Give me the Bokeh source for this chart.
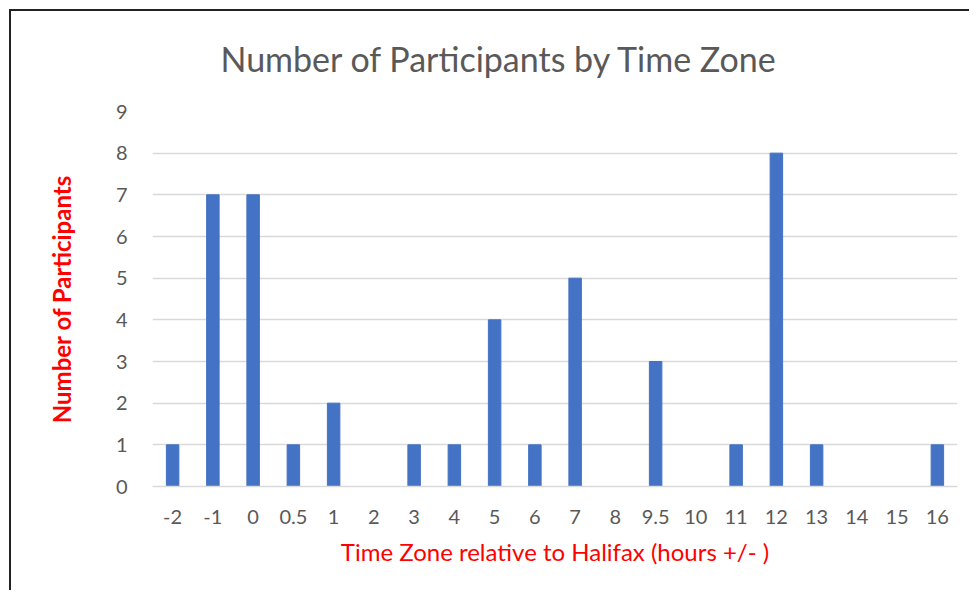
from bokeh.plotting import figure
from bokeh.models import FactorRange, Range1d, FixedTicker
from bokeh.embed import file_html
from bokeh.resources import INLINE

categories = ["-2", "-1", "0", "0.5", "1", "2", "3", "4", "5", "6", "7", "8",
              "9.5", "10", "11", "12", "13", "14", "15", "16"]
participants = [1, 7, 7, 1, 2, 0, 1, 1, 4, 1, 5, 0, 3, 0, 1, 8, 1, 0, 0, 1]
y_ticks = [0, 1, 2, 3, 4, 5, 6, 7, 8, 9]

FONT = "Lato"
GREY = "#595959"
RED = "#FF0000"

border_bg = ("linear-gradient(#222222, #222222) 9px 9px / 2px 100% no-repeat, "
             "linear-gradient(#222222, #222222) 9px 9px / 100% 2px no-repeat, #ffffff")

p = figure(
    width=969, height=590,
    x_range=FactorRange(*categories, range_padding=0),
    y_range=Range1d(0, 9),
    output_backend="svg", toolbar_location=None,
    min_border_left=152, min_border_right=12,
    min_border_top=111, min_border_bottom=104,
    styles={"background": border_bg},
)
p.x_range.factor_padding = 0
p.border_fill_color = None
p.background_fill_color = "#ffffff"

p.vbar(x=categories, top=participants, width=0.31, color="#4472C4")

p.title.text = "Number of Participants by Time Zone"
p.title.align = "left"
p.title.offset = 68
p.title.text_font = FONT
p.title.text_font_style = "normal"
p.title.text_font_size = "34px"
p.title.text_color = GREY
p.title.standoff = 65

p.outline_line_color = None
p.xgrid.grid_line_color = None
p.ygrid.grid_line_color = "#D9D9D9"
p.ygrid.grid_line_width = 1.5

p.yaxis.ticker = FixedTicker(ticks=y_ticks)
p.yaxis.axis_line_color = None
p.yaxis.major_tick_line_color = None
p.yaxis.minor_tick_line_color = None
p.yaxis.major_label_text_font = FONT
p.yaxis.major_label_text_font_size = "20px"
p.yaxis.major_label_text_color = GREY
p.yaxis.major_label_standoff = 19
p.yaxis.axis_label = "Number of Participants"
p.yaxis.axis_label_text_font = FONT
p.yaxis.axis_label_text_font_style = "bold"
p.yaxis.axis_label_text_font_size = "24px"
p.yaxis.axis_label_text_color = RED
p.yaxis.axis_label_standoff = 37

p.xaxis.axis_line_color = "#D9D9D9"
p.xaxis.axis_line_width = 1.5
p.xaxis.major_tick_line_color = None
p.xaxis.minor_tick_line_color = None
p.xaxis.major_label_text_font = FONT
p.xaxis.major_label_text_font_size = "20px"
p.xaxis.major_label_text_color = GREY
p.xaxis.major_label_standoff = 17
p.xaxis.axis_label = "Time Zone relative to Halifax (hours +/- )"
p.xaxis.axis_label_text_font = FONT
p.xaxis.axis_label_text_font_style = "normal"
p.xaxis.axis_label_text_font_size = "24px"
p.xaxis.axis_label_text_color = RED
p.xaxis.axis_label_standoff = 10

open("out.html", "w").write(file_html(p, INLINE))
